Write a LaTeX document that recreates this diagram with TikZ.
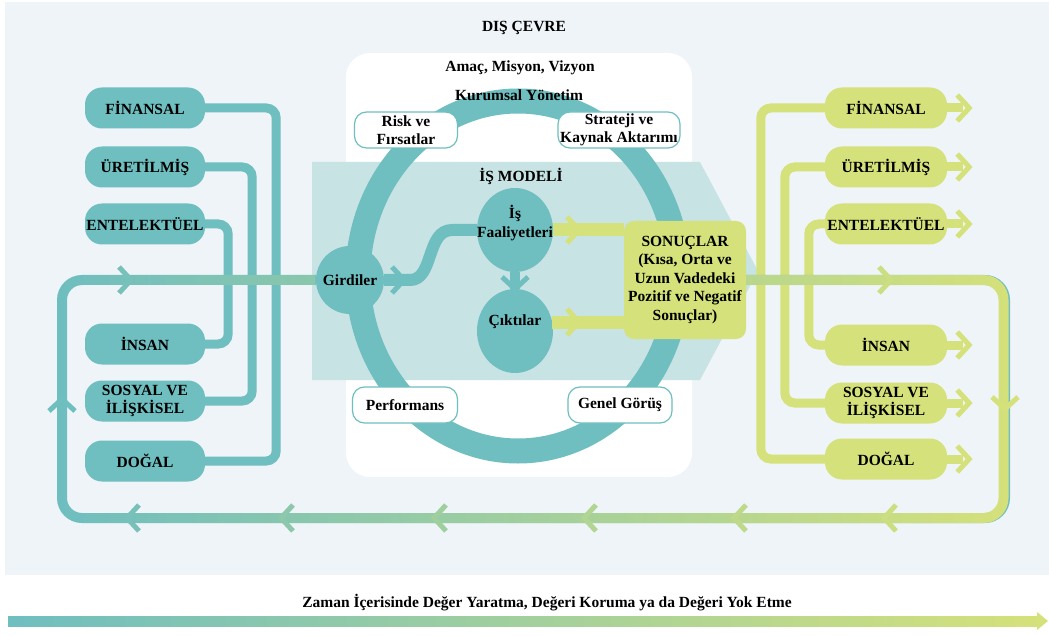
\documentclass[tikz,border=0pt]{standalone}
\usepackage{fontspec}
\setmainfont{Liberation Serif}
\usepackage{xcolor}
\usetikzlibrary{shapes.geometric, arrows.meta, positioning, calc, fadings}
\definecolor{envGray}{RGB}{239,244,248}
\definecolor{capTeal}{RGB}{111,190,192}
\definecolor{bandTeal}{RGB}{200,227,228}
\definecolor{capLime}{RGB}{213,225,122}

\tikzfading[name=fadeToRight, left color=transparent!100, middle color=transparent!40, right color=transparent!0]

\tikzset{
  chevron/.pic={\draw[line width=5pt, line join=miter] (-6,-13) -- (6,0) -- (-6,13);},
  capIn/.style={rounded corners=17pt, fill=capTeal, minimum width=120pt, minimum height=41pt, inner sep=0pt, align=center},
  capOut/.style={capIn, fill=capLime, minimum width=122pt},
  noteBox/.style={draw=capTeal, line width=1.2pt, fill=white, rounded corners=12pt, minimum height=36pt, inner sep=0pt, align=center},
  bubble/.style={ellipse, fill=capTeal, minimum width=76pt, minimum height=84pt, inner sep=0pt},
  inLine/.style={capTeal, line width=9pt, rounded corners=10pt},
  outLine/.style={capLime, line width=9pt, rounded corners=10pt},
  loopLine/.style={line width=10pt, rounded corners=20pt}
}

\begin{document}
\begin{tikzpicture}[x=1pt, y=-1pt, every node/.style={font=\fontsize{15.5}{18.5}\selectfont\bfseries}]
        \useasboundingbox (0,0) rectangle (1049,636);
        \fill[white] (0,0) rectangle (1049,636);
        \fill[envGray] (5,2) rectangle (1049,575);
        \node (env) at (524,28) {DIŞ ÇEVRE};

        % organisation and business model
        \fill[white, rounded corners=24pt] (346,53) rectangle (692,477);
        \fill[bandTeal] (312,162) -- (700,162) -- (758,271) -- (700,380) -- (312,380) -- cycle;
        \draw[capTeal, line width=25pt] (518,276) ellipse [x radius=160, y radius=175];
        \node (mission) at (520,68) {Amaç, Misyon, Vizyon};
        \node (gov) at (519,95) {Kurumsal Yönetim};
        \node (model) at (521,176) {İŞ MODELİ};

        \node[noteBox, minimum width=103pt] (risk) at (406,130) {Risk ve\\Fırsatlar};
        \node[noteBox, minimum width=122pt] (strat) at (619,130) {Strateji ve\\Kaynak Aktarımı};
        \node[noteBox, minimum width=105pt] (perf) at (405,405) {Performans};
        \node[noteBox, minimum width=104pt] (outlook) at (620,405) {Genel Görüş};

        \node[circle, fill=capTeal, minimum size=68pt, inner sep=0pt] (gird) at (350,280) {Girdiler};
        \node[bubble] (faal) at (515,230) {};
        \node[align=center] (faalText) at ([yshift=7pt]faal.center) {İş\\Faaliyetleri};
        \node[bubble] (cikti) at (515,331) {};
        \node (ciktiText) at ([yshift=9pt]cikti.center) {Çıktılar};
        \node[fill=capLime, rounded corners=10pt, minimum width=122pt, minimum height=118pt, inner sep=0pt, align=center] (sonuc) at (685,280) {SONUÇLAR\\(Kısa, Orta ve\\Uzun Vadedeki\\Pozitif ve Negatif\\Sonuçlar)};

        \draw[capTeal, line width=12pt] (gird.east) -- (410,280) .. controls (434,280) and (426,230) .. (452,230) -- (faal.west);
        \pic[color=capTeal] at (398,280) {chevron};
        \draw[capTeal, line width=10pt] (faal.south) -- (cikti.north);
        \pic[color=capTeal, rotate=-90] at (515,283) {chevron};
        \draw[capLime, line width=13pt] (faal.east) -- (faal.east -| sonuc.west);
        \pic[color=capLime] at (573,230) {chevron};
        \draw[capLime, line width=13pt] (cikti.13) -- (cikti.13 -| sonuc.west);
        \pic[color=capLime] at (573,322) {chevron};

        % capitals in
        \node[capIn] (finL) at (145,108) {FİNANSAL};
        \node[capIn] (uretL) at (145,167) {ÜRETİLMİŞ};
        \node[capIn] (entL) at (145,224) {ENTELEKTÜEL};
        \node[capIn] (insL) at (145,344) {İNSAN};
        \node[capIn] (sosL) at (145,401) {SOSYAL VE\\İLİŞKİSEL};
        \node[capIn] (dogL) at (145,461) {DOĞAL};
        \draw[inLine] (finL.east) -- ++(71,0) |- (dogL.east);
        \draw[inLine] (uretL.east) -- ++(47,0) |- (sosL.east);
        \draw[inLine] (entL.east) -- ++(23,0) |- (insL.east);

        % capitals out
        \node[capOut] (finR) at (886,108) {FİNANSAL};
        \node[capOut] (uretR) at (886,167) {ÜRETİLMİŞ};
        \node[capOut] (entR) at (886,224) {ENTELEKTÜEL};
        \node[capOut] (insR) at (886,345) {İNSAN};
        \node[capOut] (sosR) at (886,403) {SOSYAL VE\\İLİŞKİSEL};
        \node[capOut] (dogR) at (886,459) {DOĞAL};
        \draw[outLine] (finR.west) -- ++(-64,0) |- (dogR.west);
        \draw[outLine] (uretR.west) -- ++(-40,0) |- (sosR.west);
        \draw[outLine] (entR.west) -- ++(-16,0) |- (insR.west);
        \foreach \n in {finR,uretR,entR,insR,sosR,dogR}{
            \draw[capLime, line width=9pt] (\n.east) -- ++(16,0);
            \pic[color=capLime] at ($(\n.east)+(16,0)$) {chevron};
        }

        % value loop
        \coordinate (loopSE) at (1005,518);
        \coordinate (loopNW) at (62,280);
        \draw[loopLine, capTeal] (sonuc.east) -| (loopSE) -| (loopNW) -- (gird.west);
        \draw[loopLine, capLime, path fading=fadeToRight] (sonuc.east) -| (loopSE) -| (loopNW) -- (gird.west);
        \pic[color=capLime!8!capTeal] at (125,280) {chevron};
        \pic[color=capTeal, rotate=90] at (62,405) {chevron};
        \pic[color=capLime!90!capTeal] at (885,280) {chevron};
        \pic[color=capLime, rotate=-90] at (1005,403) {chevron};
        \foreach \cx/\pp in {133/9, 287/29, 440/48, 590/65, 740/77, 890/90}
            \pic[color=capLime!\pp!capTeal, rotate=180] at (\cx,518) {chevron};

        % time line
        \node (timeText) at (547,603) {Zaman İçerisinde Değer Yaratma, Değeri Koruma ya da Değeri Yok Etme};
        \shade[left color=capTeal, right color=capLime] (8,616) rectangle (1040,626);
        \fill[capLime] (1037,612) -- (1048,621) -- (1037,630) -- cycle;
    \end{tikzpicture}
\end{document}
